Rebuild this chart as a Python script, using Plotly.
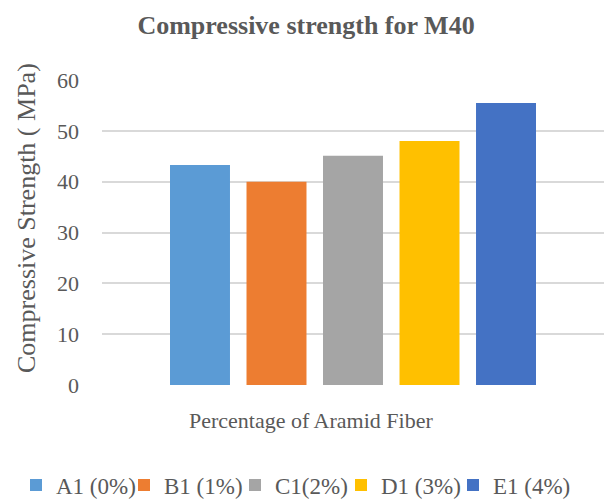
import plotly.graph_objects as go

# Compressive strength of M40 mixes by aramid fibre content
mixes = ["A1 (0%)", "B1 (1%)", "C1(2%)", "D1 (3%)", "E1 (4%)"]
strength_mpa = [43.3, 40.0, 45.1, 48.0, 55.5]
colors = ["#5B9BD5", "#ED7D31", "#A5A5A5", "#FFC000", "#4472C4"]
y_ticks = [0, 10, 20, 30, 40, 50, 60]

text_color = "#595959"
font_family = '"Liberation Serif", "Times New Roman", serif'
W, H = 606, 500

# one legend box per series, laid out as a single row under the chart
legend_ids = ["legend", "legend2", "legend3", "legend4", "legend5"]
legend_left_px = [16, 124, 235, 341, 453]

fig = go.Figure()
for name, val, col, lg in zip(mixes, strength_mpa, colors, legend_ids):
    fig.add_trace(go.Bar(
        x=["Percentage of Aramid Fiber"],
        y=[val],
        name=name,
        legend=lg,
        marker=dict(color=col, line=dict(width=0)),
    ))

legend_common = dict(
    orientation="h",
    xref="container", yref="container",
    xanchor="left",
    y=0.03, yanchor="middle",
    font=dict(size=23, color=text_color, family=font_family),
    itemwidth=30,
    traceorder="normal",
    bgcolor="rgba(0,0,0,0)",
)
legend_layout = {lg: dict(legend_common, x=px / W) for lg, px in zip(legend_ids, legend_left_px)}

fig.update_layout(
    width=W,
    height=H,
    margin=dict(l=102, r=2, t=80, b=115),
    paper_bgcolor="white",
    plot_bgcolor="white",
    barmode="group",
    bargap=0.238,
    bargroupgap=0.216,
    font=dict(family=font_family, color=text_color),
    title=dict(
        text="<b>Compressive strength for M40</b>",
        x=0.505, xanchor="center", xref="container",
        y=0.95, yanchor="middle",
        font=dict(size=26, color=text_color, family=font_family),
    ),
    xaxis=dict(
        showticklabels=False,
        showgrid=False,
        zeroline=False,
        showline=False,
        ticks="",
    ),
    yaxis=dict(
        range=[0, 60],
        tickvals=y_ticks,
        showgrid=True,
        gridcolor="#D9D9D9",
        gridwidth=1.5,
        zeroline=False,
        showline=False,
        ticks="",
        ticklabelstandoff=22,
        tickfont=dict(size=22, color=text_color, family=font_family),
    ),
    showlegend=True,
    **legend_layout,
)

# axis titles
fig.add_annotation(
    text="Compressive Strength ( MPa)",
    xref="paper", yref="paper",
    x=0.0, xshift=(26 - 102),
    y=0.0, yshift=(385 - 218),
    xanchor="center", yanchor="middle",
    textangle=-90,
    showarrow=False,
    font=dict(size=26, color=text_color, family=font_family),
)
fig.add_annotation(
    text="Percentage of Aramid Fiber",
    xref="paper", yref="paper",
    x=0.0, xshift=(311 - 102), y=-0.117, xanchor="center", yanchor="middle",
    showarrow=False,
    font=dict(size=22, color=text_color, family=font_family),
)

fig.write_html("out.html")
